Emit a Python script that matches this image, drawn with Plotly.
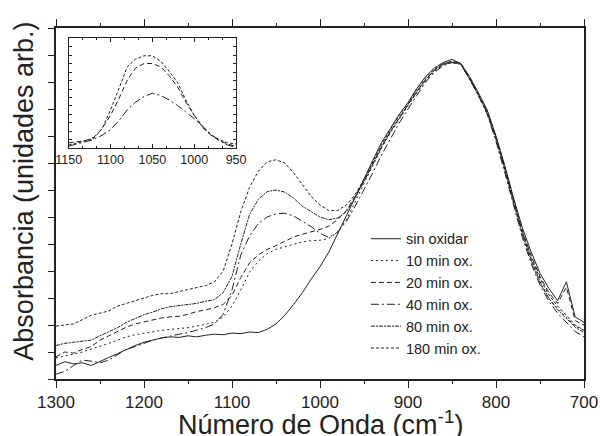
import plotly.graph_objects as go

# wavenumber grid (cm-1), 1300 -> 700 in steps of 10
wavenumber = list(range(1300, 690, -10))

sin_oxidar = [0.25, 0.32, 0.28, 0.30, 0.25, 0.33, 0.40, 0.47, 0.55, 0.62,
              0.68, 0.72, 0.76, 0.78, 0.77, 0.80, 0.78, 0.81, 0.83, 0.82,
              0.85, 0.84, 0.87, 0.86, 0.92, 1.02, 1.18, 1.38, 1.60, 1.85,
              2.08, 2.35, 2.68, 3.02, 3.35, 3.70, 4.05, 4.38, 4.64, 4.90,
              5.12, 5.38, 5.60, 5.76, 5.86, 5.92, 5.84, 5.60, 5.30, 4.98,
              4.50, 3.95, 3.35, 2.80, 2.35, 1.96, 1.68, 1.45, 1.80, 1.15,
              1.05]
min10 = [0.39, 0.42, 0.46, 0.50, 0.55, 0.60, 0.66, 0.72, 0.78, 0.82,
         0.85, 0.88, 0.90, 0.92, 0.93, 0.95, 0.98, 1.01, 1.05, 1.15,
         1.35, 1.65, 1.98, 2.18, 2.32, 2.40, 2.45, 2.50, 2.54, 2.56,
         2.57, 2.60, 2.72, 2.95, 3.30, 3.62, 3.95, 4.28, 4.56, 4.82,
         5.06, 5.30, 5.52, 5.70, 5.82, 5.86, 5.83, 5.55, 5.25, 4.92,
         4.44, 3.86, 3.25, 2.66, 2.18, 1.78, 1.48, 1.30, 1.14, 0.98,
         0.90]
min20 = [0.41, 0.50, 0.48, 0.55, 0.60, 0.72, 0.80, 0.88, 0.96, 1.02,
         1.06, 1.10, 1.13, 1.15, 1.16, 1.20, 1.25, 1.28, 1.32, 1.38,
         1.55, 1.88, 2.15, 2.30, 2.40, 2.47, 2.55, 2.63, 2.68, 2.72,
         2.77, 2.83, 2.95, 3.12, 3.38, 3.66, 3.98, 4.30, 4.58, 4.84,
         5.08, 5.32, 5.54, 5.72, 5.84, 5.88, 5.85, 5.58, 5.27, 4.95,
         4.47, 3.92, 3.30, 2.74, 2.28, 1.90, 1.60, 1.40, 1.70, 1.08,
         1.00]
min40 = [0.09, 0.14, 0.25, 0.35, 0.33, 0.30, 0.35, 0.45, 0.55, 0.60,
         0.66, 0.72, 0.76, 0.80, 0.83, 0.86, 0.90, 0.95, 1.02, 1.20,
         1.65, 2.30, 2.65, 2.88, 3.00, 3.06, 3.07, 3.02, 2.92, 2.82,
         2.70, 2.62, 2.72, 2.92, 3.20, 3.50, 3.82, 4.15, 4.45, 4.74,
         5.00, 5.25, 5.50, 5.68, 5.80, 5.86, 5.83, 5.56, 5.25, 4.90,
         4.40, 3.82, 3.20, 2.62, 2.14, 1.74, 1.44, 1.22, 1.05, 0.88,
         0.78]
min80 = [0.62, 0.66, 0.68, 0.70, 0.72, 0.80, 0.88, 0.95, 1.05, 1.12,
         1.19, 1.24, 1.30, 1.34, 1.36, 1.38, 1.40, 1.44, 1.47, 1.60,
         1.90, 2.50, 3.05, 3.33, 3.47, 3.50, 3.46, 3.35, 3.20, 3.10,
         3.00, 2.95, 2.98, 3.10, 3.36, 3.66, 3.98, 4.30, 4.58, 4.84,
         5.08, 5.32, 5.55, 5.72, 5.83, 5.87, 5.83, 5.55, 5.26, 4.93,
         4.45, 3.88, 3.26, 2.68, 2.20, 1.80, 1.50, 1.28, 1.12, 0.96,
         0.86]
min180 = [0.98, 1.00, 1.02, 1.10, 1.18, 1.22, 1.26, 1.35, 1.40, 1.45,
          1.50, 1.55, 1.58, 1.58, 1.62, 1.66, 1.69, 1.73, 1.80, 2.00,
          2.50, 3.10, 3.55, 3.85, 4.02, 4.06, 4.00, 3.82, 3.60, 3.38,
          3.22, 3.12, 3.12, 3.22, 3.42, 3.70, 4.02, 4.34, 4.62, 4.88,
          5.10, 5.36, 5.58, 5.74, 5.84, 5.88, 5.84, 5.56, 5.28, 4.96,
          4.48, 3.92, 3.30, 2.72, 2.25, 1.86, 1.56, 1.35, 1.18, 1.00,
          0.90]

series_names = ["sin oxidar", "10 min ox.", "20 min ox.", "40 min ox.",
                "80 min ox.", "180 min ox."]
series_values = [sin_oxidar, min10, min20, min40, min80, min180]
series_dash = ["solid", "2px,3px", "5px,3px", "8px,3px,2px,3px",
               "4px,1px,2px,1px", "3px,2px"]

# inset (difference spectra)
inset_wavenumber = list(range(1150, 940, -10))
inset_180 = [0.03, 0.05, 0.07, 0.09, 0.18, 0.35, 0.54, 0.74, 0.81, 0.84,
             0.84, 0.79, 0.70, 0.60, 0.44, 0.30, 0.20, 0.12, 0.08, 0.05, 0.04]
inset_80 = [0.05, 0.06, 0.07, 0.10, 0.18, 0.30, 0.45, 0.62, 0.73, 0.77,
            0.77, 0.74, 0.66, 0.56, 0.42, 0.30, 0.19, 0.12, 0.07, 0.04, 0.02]
inset_40 = [0.02, 0.04, 0.06, 0.08, 0.12, 0.17, 0.25, 0.35, 0.42, 0.47,
            0.50, 0.48, 0.44, 0.39, 0.33, 0.27, 0.20, 0.13, 0.07, 0.03, 0.01]
inset_values = [inset_180, inset_80, inset_40]
inset_dash = ["3px,2px", "5px,3px", "8px,3px,2px,3px"]

x_tick_vals = [1300, 1200, 1100, 1000, 900, 800, 700]
inset_tick_vals = [1150, 1100, 1050, 1000, 950]

INK = "#222222"
FONT = "Liberation Sans, Arial, sans-serif"

fig = go.Figure()
for name, vals, dash in zip(series_names, series_values, series_dash):
    fig.add_trace(go.Scatter(x=wavenumber, y=vals, mode="lines", name=name,
                             line=dict(color=INK, width=1, dash=dash)))
for vals, dash in zip(inset_values, inset_dash):
    fig.add_trace(go.Scatter(x=inset_wavenumber, y=vals, mode="lines",
                             showlegend=False, xaxis="x2", yaxis="y2",
                             line=dict(color=INK, width=1, dash=dash)))

fig.update_layout(
    width=600, height=436,
    margin=dict(l=56, r=16, t=28, b=57),
    paper_bgcolor="white", plot_bgcolor="white",
    font=dict(family=FONT, color=INK),
    xaxis=dict(range=[1300, 700], tickvals=x_tick_vals,
               ticktext=[str(v) for v in x_tick_vals],
               ticks="outside", ticklen=7, tickwidth=1.3, tickcolor=INK,
               minor=dict(dtick=50, ticks="outside", ticklen=3, tickcolor=INK, tickwidth=1.3),
               showline=True, linecolor=INK, linewidth=1.5, mirror="ticks",
               showgrid=False, zeroline=False, automargin=False,
               tickfont=dict(size=17)),
    yaxis=dict(range=[0, 6.5], dtick=0.5, tick0=0, showticklabels=False,
               ticks="outside", ticklen=6, tickwidth=1.3, tickcolor=INK,
               showline=True, linecolor=INK, linewidth=1.5, mirror=True,
               showgrid=False, zeroline=False, automargin=False),
    xaxis2=dict(domain=[0.024, 0.341], anchor="y2", range=[1150, 950],
                tickvals=inset_tick_vals, ticks="inside", ticklen=4, tickcolor=INK,
                minor=dict(dtick=50/3, tick0=950, ticks="inside", ticklen=2, tickcolor=INK),
                showline=True, linecolor=INK, linewidth=1, mirror="allticks",
                showgrid=False, zeroline=False, tickfont=dict(size=12.5),
                automargin=False),
    yaxis2=dict(domain=[0.657, 0.971], anchor="x2", range=[0, 1],
                dtick=1/13, tick0=0, showticklabels=False,
                ticks="inside", ticklen=3, tickcolor=INK,
                showline=True, linecolor=INK, linewidth=1, mirror="allticks",
                showgrid=False, zeroline=False, automargin=False),
    legend=dict(x=0.587, y=0.445, xanchor="left", yanchor="top",
                bgcolor="rgba(0,0,0,0)", font=dict(size=14.5),
                itemwidth=30, tracegroupgap=0),
    annotations=[
        dict(text="Número de Onda (cm<sup>-1</sup>)", xref="paper", yref="paper",
             x=0.5, y=-0.126, xanchor="center", yanchor="middle",
             showarrow=False, font=dict(size=27)),
        dict(text="Absorbancia (unidades arb.)", xref="paper", yref="paper",
             x=-0.061, y=0.536, xanchor="center", yanchor="middle",
             textangle=-90, showarrow=False, font=dict(size=27)),
    ],
)

fig.write_html("out.html",
               config={"displayModeBar": False},
               post_script="document.body.style.margin='0';"
                           "document.body.style.overflow='hidden';")
